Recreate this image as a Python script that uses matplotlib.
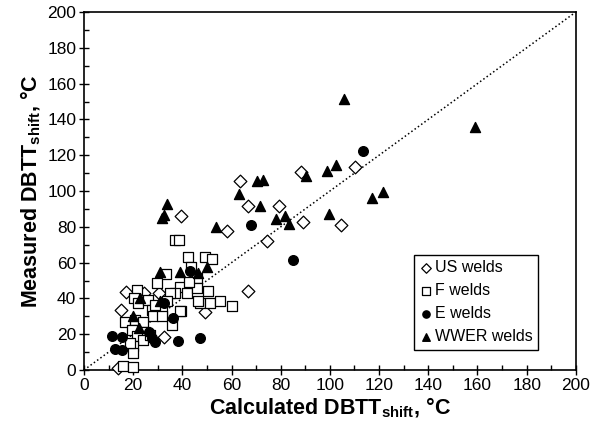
import matplotlib

matplotlib.use("Agg")
import matplotlib.pyplot as plt
from matplotlib.ticker import MultipleLocator

plt.rcParams["font.family"] = ["Liberation Sans", "DejaVu Sans"]
plt.rcParams["mathtext.fontset"] = "custom"
plt.rcParams["mathtext.rm"] = "Liberation Sans"
plt.rcParams["mathtext.bf"] = "Liberation Sans:bold"

# data: (calculated, measured) DBTT shift, degC
us_x = [110.2, 88.1, 63.6, 66.6, 79.4, 39.6, 58.3, 89.2, 104.7, 74.4, 66.5,
        49.2, 32.6, 17.0, 15.0, 24.3, 30.5, 13.8]
us_y = [113.6, 110.6, 105.4, 91.6, 91.6, 85.8, 77.8, 82.7, 80.8, 71.9, 44.3,
        32.4, 18.5, 43.7, 33.4, 42.8, 43.3, 1.4]

f_x = [37.2, 38.6, 42.4, 49.2, 52.1, 43.7, 33.4, 46.1, 50.5, 39.0, 42.0,
       37.0, 46.1, 47.2, 51.2, 55.3, 60.3, 39.3, 35.7, 29.7, 35.0, 21.4,
       20.5, 22.1, 26.1, 27.5, 31.6, 28.2, 31.6, 16.6, 20.8, 24.1, 39.0,
       19.4, 24.8, 21.4, 24.1, 26.8, 20.1, 19.8, 18.9, 16.0, 20.1, 46.2,
       28.8, 33.7, 42.6]
f_y = [72.4, 72.4, 63.4, 63.4, 62.0, 57.3, 53.5, 51.4, 44.3, 46.2, 43.0,
       43.0, 45.8, 37.7, 37.2, 38.8, 36.0, 33.2, 25.3, 48.6, 43.0, 44.9,
       40.2, 37.5, 39.2, 33.7, 33.7, 29.9, 29.9, 27.1, 28.1, 27.1, 32.8,
       22.5, 21.5, 18.8, 17.0, 19.8, 13.2, 9.5, 15.1, 2.4, 1.5, 38.3,
       36.4, 38.3, 49.3]

e_x = [11.2, 15.6, 12.8, 15.5, 26.6, 27.5, 28.9, 36.1, 38.3, 47.0, 43.1,
       67.8, 85.0, 113.5, 32.7]
e_y = [19.0, 18.7, 12.0, 11.0, 21.0, 17.9, 15.7, 29.1, 16.4, 18.1, 55.4,
       81.1, 61.6, 122.2, 37.4]

wwer_x = [105.7, 158.9, 117.0, 121.4, 98.8, 102.4, 90.1, 70.2, 72.6, 63.2,
          71.5, 78.1, 81.7, 83.2, 99.6, 33.7, 31.9, 32.7, 53.8, 50.2, 31.1,
          39.0, 46.5, 22.8, 31.1, 19.8, 22.5]
wwer_y = [151.2, 135.8, 96.0, 99.5, 111.4, 114.6, 108.3, 105.4, 106.3, 98.2,
          91.5, 84.1, 85.8, 81.6, 87.3, 92.5, 84.9, 86.6, 79.9, 57.4, 54.9,
          54.7, 54.2, 40.3, 38.7, 29.9, 23.4]

fig = plt.figure(figsize=(5.94, 4.30), dpi=100)
ax = fig.add_axes([0.1414, 0.1395, 0.828, 0.8326])

ax.plot([0, 200], [0, 200], ":", color="black", linewidth=1.1, zorder=1)

ms = 42
ax.scatter(us_x, us_y, s=ms, marker="D", facecolors="white",
           edgecolors="black", linewidths=0.9, label="US welds", zorder=3,
           clip_on=False)
ax.scatter(f_x, f_y, s=ms + 8, marker="s", facecolors="white",
           edgecolors="black", linewidths=0.9, label="F welds", zorder=3,
           clip_on=False)
ax.scatter(e_x, e_y, s=ms + 6, marker="o", color="black",
           label="E welds", zorder=4, clip_on=False)
ax.scatter(wwer_x, wwer_y, s=ms + 10, marker="^", color="black",
           label="WWER welds", zorder=4, clip_on=False)

ax.set_xlim(0, 200)
ax.set_ylim(0, 200)
ax.xaxis.set_major_locator(MultipleLocator(20))
ax.yaxis.set_major_locator(MultipleLocator(20))
ax.xaxis.set_minor_locator(MultipleLocator(10))
ax.yaxis.set_minor_locator(MultipleLocator(10))
ax.tick_params(which="major", direction="inout", length=7, width=1,
               labelsize=12.5, pad=2)
ax.tick_params(which="minor", direction="in", length=3.5, width=1)
for sp in ax.spines.values():
    sp.set_linewidth(1.2)

ax.set_xlabel(r"Calculated DBTT$_{\mathbf{shift}}$, °C", fontsize=15.5,
              fontweight="bold", labelpad=2)
ax.set_ylabel(r"Measured DBTT$_{\mathbf{shift}}$, °C", fontsize=15.5,
              fontweight="bold", labelpad=3)

leg = ax.legend(loc="lower right", bbox_to_anchor=(0.923, 0.056),
                fontsize=11.5, frameon=True, fancybox=False,
                edgecolor="black", framealpha=1, markerscale=0.75,
                handletextpad=0.15, handlelength=0.8, labelspacing=0.5,
                borderpad=0.35, borderaxespad=0)
leg.get_frame().set_linewidth(1.0)

fig.savefig("out.png", dpi=100)
